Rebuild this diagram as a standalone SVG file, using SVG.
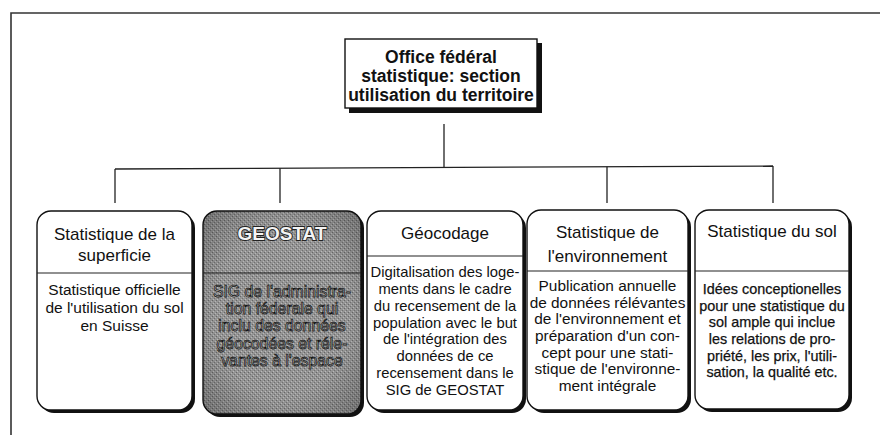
<svg xmlns="http://www.w3.org/2000/svg" width="880" height="435" viewBox="0 0 880 435">
<defs>
<pattern id="dots" width="4" height="4" patternUnits="userSpaceOnUse">
<rect width="4" height="4" fill="#949494"/>
<rect x="0" y="0" width="1" height="1" fill="#666"/>
<rect x="2" y="2" width="1" height="1" fill="#707070"/>
<rect x="1" y="3" width="1" height="1" fill="#bbb"/>
<rect x="3" y="1" width="1" height="1" fill="#b6b6b6"/>
</pattern>
<radialGradient id="vign" cx="0.5" cy="0.5" r="0.7">
<stop offset="0.6" stop-color="#000" stop-opacity="0"/>
<stop offset="1" stop-color="#000" stop-opacity="0.25"/>
</radialGradient>
</defs>
<style>
.frame{stroke:#333;stroke-width:1.6;fill:none}
.con{stroke:#222;stroke-width:1.3;fill:none}
.shadow{fill:#111}
.box{fill:#fff;stroke:#111;stroke-width:1.4}
.gbox{fill:url(#dots);stroke:#111;stroke-width:1.4}
.div{stroke:#222;stroke-width:1.2}
text{font-family:"Liberation Sans",Arial,sans-serif;fill:#111;text-anchor:middle}
.head{font-size:17.5px;font-weight:bold}
.t{font-size:17px}
.b1{font-size:15.5px}
.b2{font-size:15.8px;fill:#c4c4c4;stroke:#141414;stroke-width:0.75}
.g{font-size:19px;font-weight:bold;fill:#f4f4f4;stroke:#222;stroke-width:1.8;paint-order:stroke}
.b3{font-size:14.8px}
.b4{font-size:15.4px}
.b5{font-size:14.4px;stroke:#111;stroke-width:0.25}
</style>
<path class="frame" d="M11,435 V13 H880"/>
<g id="connectors">
<line class="con" x1="444" y1="124" x2="444" y2="167.5"/>
<line class="con" x1="115" y1="169" x2="773" y2="166"/>
<line class="con" x1="115" y1="169" x2="115" y2="203"/>
<line class="con" x1="280" y1="168.3" x2="280" y2="203"/>
<line class="con" x1="607" y1="166.8" x2="607" y2="203"/>
<line class="con" x1="773" y1="166" x2="773" y2="203"/>
</g>
<g id="office">
<rect class="shadow" x="349" y="43" width="193" height="70"/>
<rect x="345" y="39" width="192" height="69" fill="#fff" stroke="#111" stroke-width="1.4"/>
<text class="head" x="441" y="63">Office fédéral</text>
<text class="head" x="441" y="82">statistique: section</text>
<text class="head" x="441" y="101">utilisation du territoire</text>
</g>
<g id="superficie">
<rect class="shadow" x="40" y="214" width="155" height="199" rx="14"/>
<rect class="box" x="37" y="211" width="155" height="199" rx="14"/>
<line class="div" x1="37" y1="273" x2="192" y2="273"/>
<text class="t" x="114.5" y="240">Statistique de la</text>
<text class="t" x="114.5" y="261">superficie</text>
<text class="b1" x="114.5" y="295">Statistique officielle</text>
<text class="b1" x="114.5" y="313">de l'utilisation du sol</text>
<text class="b1" x="114.5" y="331">en Suisse</text>
</g>
<g id="geostat">
<rect class="shadow" x="206" y="214" width="158" height="203" rx="14"/>
<rect class="gbox" x="203" y="211" width="158" height="203" rx="14"/>
<rect x="203" y="211" width="158" height="203" rx="14" fill="url(#vign)"/>
<line class="div" x1="203" y1="273" x2="361" y2="273"/>
<text class="g" x="282" y="240">GEOSTAT</text>
<text class="b2" x="282" y="297">SIG de l'administra-</text>
<text class="b2" x="282" y="314">tion féderale qui</text>
<text class="b2" x="282" y="331">inclu des données</text>
<text class="b2" x="282" y="349">géocodées et réle-</text>
<text class="b2" x="282" y="366">vantes à l'espace</text>
</g>
<g id="geocodage">
<rect class="shadow" x="370" y="214" width="156" height="199" rx="14"/>
<rect class="box" x="367" y="211" width="156" height="199" rx="14"/>
<line class="div" x1="367" y1="256" x2="523" y2="256"/>
<text class="t" x="445" y="239">Géocodage</text>
<text class="b3" x="445" y="277">Digitalisation des loge-</text>
<text class="b3" x="445" y="294">ments dans le cadre</text>
<text class="b3" x="445" y="311">du recensement de la</text>
<text class="b3" x="445" y="328">population avec le but</text>
<text class="b3" x="445" y="344">de l'intégration des</text>
<text class="b3" x="445" y="361">données de ce</text>
<text class="b3" x="445" y="378">recensement dans le</text>
<text class="b3" x="445" y="395">SIG de GEOSTAT</text>
</g>
<g id="environnement">
<rect class="shadow" x="530" y="213" width="161" height="200" rx="14"/>
<rect class="box" x="527" y="210" width="161" height="200" rx="14"/>
<line class="div" x1="527" y1="271" x2="688" y2="271"/>
<text class="t" x="607.5" y="238">Statistique de</text>
<text class="t" x="607.5" y="262">l'environnement</text>
<text class="b4" x="607.5" y="291">Publication annuelle</text>
<text class="b4" x="607.5" y="308">de données rélévantes</text>
<text class="b4" x="607.5" y="324">de l'environnement et</text>
<text class="b4" x="607.5" y="341">préparation d'un con-</text>
<text class="b4" x="607.5" y="358">cept pour une stati-</text>
<text class="b4" x="607.5" y="374">stique de l'environne-</text>
<text class="b4" x="607.5" y="391">ment intégrale</text>
</g>
<g id="sol">
<rect class="shadow" x="698" y="213" width="154" height="199" rx="14"/>
<rect class="box" x="695" y="210" width="154" height="199" rx="14"/>
<line class="div" x1="695" y1="271" x2="849" y2="271"/>
<text class="t" x="772" y="237">Statistique du sol</text>
<text class="b5" x="772" y="294">Idées conceptionelles</text>
<text class="b5" x="772" y="311">pour une statistique du</text>
<text class="b5" x="772" y="327">sol ample qui inclue</text>
<text class="b5" x="772" y="344">les relations de pro-</text>
<text class="b5" x="772" y="361">priété, les prix, l'utili-</text>
<text class="b5" x="772" y="377">sation, la qualité etc.</text>
</g>
</svg>
